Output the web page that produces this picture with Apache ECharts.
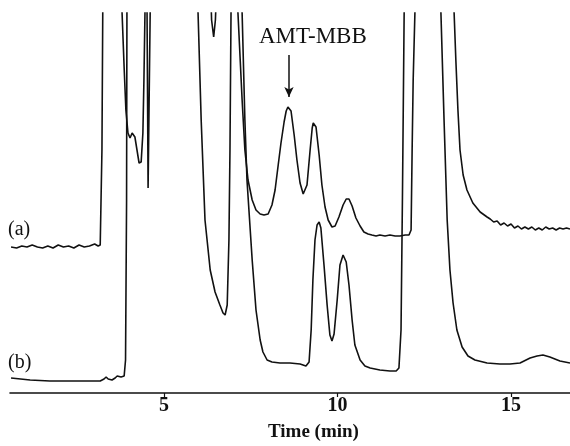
<!DOCTYPE html>
<html><head><meta charset="utf-8">
<script src="https://cdn.jsdelivr.net/npm/echarts@6/dist/echarts.min.js"></script>
<style>html,body{margin:0;padding:0;background:#fff}#c{width:570px;height:446px}</style>
</head><body><div id="c"></div>
<script>
// Trace (a): time (min) and detector signal (arbitrary units); values above 38 are off-scale
const timeA = [0.59,0.75,0.9,1.05,1.2,1.35,1.5,1.65,1.8,1.95,2.1,2.25,2.4,2.55,2.7,2.85,3.0,3.1,3.16,
  3.18,3.21,3.24,3.76,3.79,3.85,3.9,3.96,4.02,4.08,4.11,4.16,4.22,4.28,4.31,4.34,4.39,4.42,4.45,4.48,4.51,4.54,4.57,4.6,4.63,
  6.33,6.37,6.43,6.48,6.53,7.07,7.13,7.25,7.33,7.42,7.54,7.65,7.77,7.88,8.0,8.11,8.2,8.29,8.37,8.46,8.52,8.57,8.61,8.66,8.75,8.83,8.92,9.01,9.06,
  9.12,9.21,9.27,9.3,9.34,9.38,9.47,9.55,9.64,9.73,9.84,9.93,10.04,10.16,10.25,10.33,10.42,10.53,10.65,10.76,10.88,10.99,11.11,11.22,11.37,11.51,11.66,11.8,11.95,12.06,
  12.12,12.15,12.18,12.23,12.26,13.3,13.36,13.41,13.47,13.53,13.62,13.73,13.9,14.11,14.31,
  14.4,14.5,14.6,14.7,14.8,14.9,15.0,15.1,15.2,15.3,15.4,15.5,15.6,15.7,15.8,15.9,16.0,16.1,16.2,16.3,16.4,16.5,16.6,16.7];
const sigA = [14.6,14.5,14.7,14.6,14.8,14.6,14.5,14.7,14.5,14.8,14.6,14.7,14.5,14.8,14.6,14.7,14.9,14.7,14.8,
  15.0,24.3,42,42,38.0,32.5,28.3,26.0,25.5,26.0,26.1,25.6,24.3,23.0,22.8,23.1,26.0,31.3,38.0,42,38.0,20.5,29.3,38.0,42,
  42,37.3,35.6,37.3,42,42,38.0,29.3,24.3,21.3,19.3,18.3,17.9,17.8,17.9,18.8,20.3,22.8,25.0,27.1,28.2,28.6,28.6,28.2,25.8,23.3,21.0,19.9,19.8,
  20.8,24.3,26.5,27.0,27.0,26.6,23.8,20.8,18.6,17.3,16.6,16.7,17.6,18.8,19.4,19.4,18.7,17.5,16.7,16.1,15.9,15.8,15.7,15.8,15.7,15.8,15.7,15.7,15.8,15.8,
  16.3,24.3,31.3,38.0,42,42,38.0,33.3,28.3,24.3,21.8,20.3,19.0,18.1,17.6,
  17.4,17.1,17.2,16.8,17.0,16.7,16.9,16.5,16.7,16.4,16.6,16.4,16.6,16.3,16.5,16.3,16.6,16.4,16.5,16.3,16.5,16.4,16.5,16.4];

// Trace (b)
const timeB = [0.59,1.14,1.71,2.29,2.87,3.16,3.27,3.33,3.39,3.5,3.59,3.65,3.7,3.76,3.85,3.89,3.92,3.93,3.96,
  5.92,5.98,6.07,6.18,6.33,6.47,6.61,6.7,6.76,6.82,6.87,6.9,6.93,6.96,7.19,7.25,7.33,7.39,7.54,7.65,7.77,7.85,7.97,8.11,8.34,8.63,8.92,9.09,
  9.18,9.24,9.29,9.35,9.41,9.47,9.52,9.61,9.7,9.78,9.84,9.9,9.99,10.07,10.16,10.25,10.33,10.42,10.5,10.65,10.79,10.94,11.22,11.51,11.69,
  11.77,11.83,11.87,11.92,11.95,12.95,12.98,13.07,13.16,13.24,13.33,13.44,13.59,13.76,13.96,14.31,14.68,14.97,15.26,15.55,15.75,15.92,16.12,16.41,16.7];
const sigB = [1.5,1.3,1.2,1.2,1.2,1.2,1.4,1.6,1.4,1.3,1.5,1.7,1.5,1.6,1.7,3.3,19.3,38.0,42,
  42,38.0,27.3,17.3,12.3,10.1,8.8,8.0,7.8,8.8,15.3,24.3,38.0,42,42,38.0,27.3,21.3,13.3,8.3,5.3,4.1,3.3,3.1,3.0,3.0,2.9,2.7,
  3.1,6.3,11.3,15.3,16.8,17.1,16.5,12.8,8.8,5.8,5.2,5.9,9.3,12.8,13.8,13.1,10.8,7.3,4.8,3.3,2.7,2.5,2.3,2.2,2.2,
  2.5,6.3,19.3,38.0,42,42,38.0,27.3,17.3,12.3,9.0,6.3,4.6,3.7,3.3,3.0,2.9,2.9,3.0,3.5,3.7,3.8,3.6,3.2,3.0];

const tickValues = [5, 10, 15];
const peakTime = 8.6;

const zip = (t, v) => t.map((x, i) => [x, v[i]]);
const serif = '"Liberation Serif", "DejaVu Serif", serif';
const chart = echarts.init(document.getElementById('c'), null, {renderer: 'canvas'});
chart.setOption({
  animation: false,
  backgroundColor: '#fff',
  grid: {left: 10, right: 0, top: 13, bottom: 53, containLabel: false},
  xAxis: {
    type: 'value', min: 0.56, max: 16.7,
    axisLine: {show: true, lineStyle: {color: '#111', width: 1.6}},
    axisTick: {show: true, length: 4, customValues: tickValues, lineStyle: {color: '#111', width: 1.2}},
    axisLabel: {customValues: tickValues, color: '#111', fontFamily: serif, fontSize: 20, fontWeight: 'bold', margin: 3},
    splitLine: {show: false}
  },
  yAxis: {type: 'value', min: 0, max: 38, show: false, splitLine: {show: false}},
  graphic: [
    {type: 'text', left: 268, top: 423, style: {text: 'Time (min)', font: 'bold 19px ' + serif, fill: '#111'}},
    {type: 'text', left: 259, top: 25, style: {text: 'AMT-MBB', font: '23px ' + serif, fill: '#111'}},
    {type: 'text', left: 8, top: 220, style: {text: '(a)', font: '20px ' + serif, fill: '#111'}},
    {type: 'text', left: 8, top: 353, style: {text: '(b)', font: '20px ' + serif, fill: '#111'}}
  ],
  series: [
    {type: 'line', data: zip(timeA, sigA), showSymbol: false, clip: true,
     lineStyle: {color: '#111', width: 1.6},
     markLine: {silent: true, symbol: ['none', 'arrow'], symbolSize: [7, 10],
       lineStyle: {color: '#111', width: 1.5, type: 'solid'}, label: {show: false},
       data: [[{coord: [peakTime, 33.8]}, {coord: [peakTime, 29.6]}]]}},
    {type: 'line', data: zip(timeB, sigB), showSymbol: false, clip: true,
     lineStyle: {color: '#111', width: 1.6}}
  ]
});
</script></body></html>
